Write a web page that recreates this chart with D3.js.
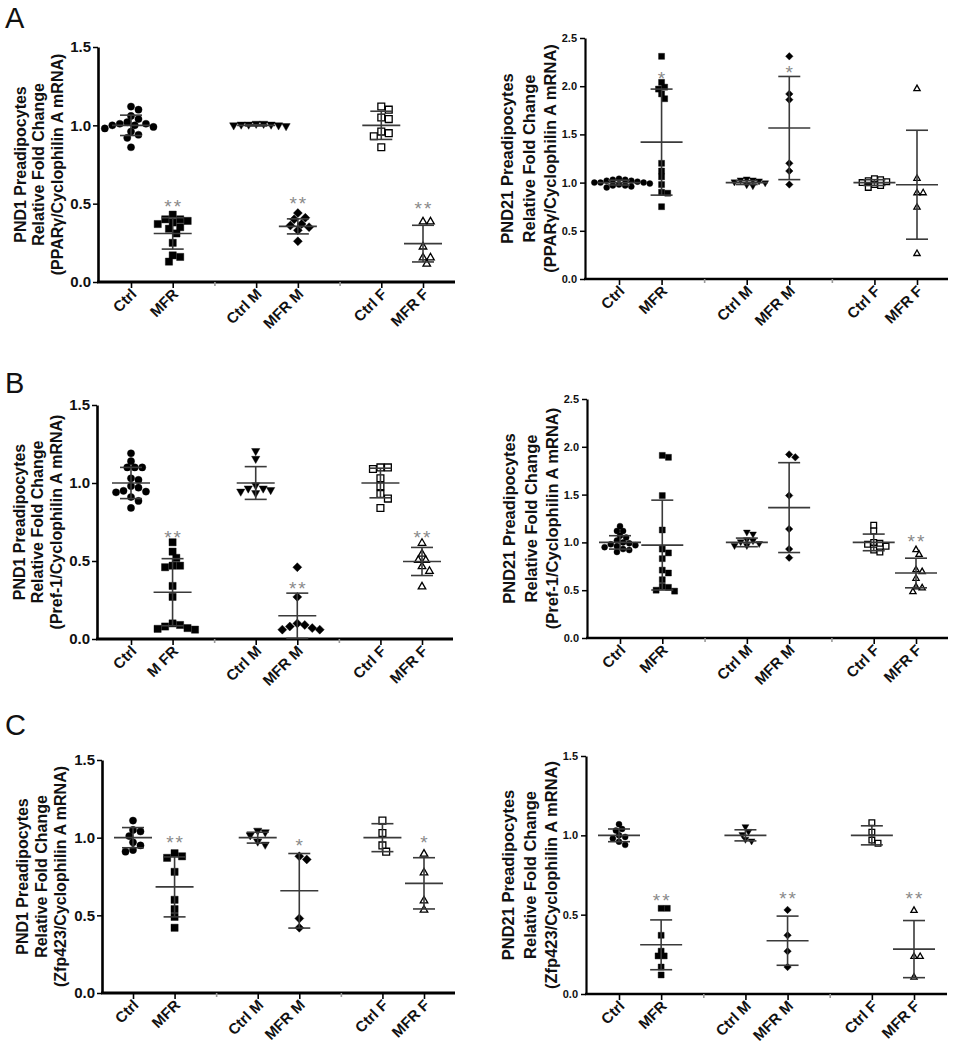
<!DOCTYPE html>
<html><head><meta charset="utf-8">
<script src="https://cdn.jsdelivr.net/npm/d3@7"></script>
<style>body{margin:0;background:#fff} svg{display:block}</style>
</head><body>
<svg id="chart" width="957" height="1050"></svg>
<script>
// ---------------- DATA ----------------
const groupLabels  = ["Ctrl","MFR","Ctrl M","MFR M","Ctrl F","MFR F"];
const groupLabelsB1 = ["Ctrl","M FR","Ctrl M","MFR M","Ctrl F","MFR F"];
const yTicksLow  = [0.0,0.5,1.0,1.5];
const yTicksHigh = [0.0,0.5,1.0,1.5,2.0,2.5];

const titleA1 = ["PND1 Preadipocytes","Relative Fold Change","(PPARγ/Cyclophilin A mRNA)"];
const titleA2 = ["PND21 Preadipocytes","Relative Fold Change","(PPARγ/Cyclophilin A mRNA)"];
const titleB1 = ["PND1 Preadipocytes","Relative Fold Change","(Pref-1/Cyclophilin A mRNA)"];
const titleB2 = ["PND21 Preadipocytes","Relative Fold Change","(Pref-1/Cyclophilin A mRNA)"];
const titleC1 = ["PND1 Preadipocytes","Relative Fold Change","(Zfp423/Cyclophilin A mRNA)"];
const titleC2 = ["PND21 Preadipocytes","Relative Fold Change","(Zfp423/Cyclophilin A mRNA)"];

// Panel A left
const aL_values = [
  [1.12,1.10,1.06,1.04,1.02,1.01,1.01,1.00,1.00,0.99,0.98,0.96,0.94,0.92,0.86],
  [0.43,0.40,0.40,0.39,0.38,0.37,0.35,0.34,0.31,0.25,0.17,0.16,0.13],
  [1.005,1.005,1.0,1.0,1.0,0.995,0.995,0.99],
  [0.44,0.41,0.40,0.37,0.36,0.35,0.33,0.26],
  [1.12,1.10,1.05,1.04,0.96,0.95,0.93,0.86],
  [0.39,0.39,0.23,0.16,0.16,0.12]
];
const aL_mean = [1.0,0.31,1.0,0.355,1.0,0.245];
const aL_sd   = [0.065,0.10,0.004,0.048,0.09,0.117];
const aL_stars = ["","**","","**","","**"];
const aL_starLevel = [0,0.51,0,0.53,0,0.50];

// Panel A right
const aR_values = [
  [1.04,1.03,1.03,1.02,1.02,1.01,1.0,1.0,1.0,0.99,0.98,0.97,0.97,0.96,0.95],
  [2.31,2.04,1.99,1.97,1.92,1.87,1.20,1.12,1.06,0.98,0.90,0.89,0.75],
  [1.03,1.02,1.02,1.01,1.0,0.99,0.97,0.96],
  [2.31,1.92,1.86,1.20,1.12,0.98],
  [1.04,1.03,1.02,1.01,1.0,0.98,0.97,0.95],
  [1.98,1.05,0.90,0.90,0.75,0.27]
];
const aR_mean = [1.0,1.42,1.0,1.566,1.0,0.978];
const aR_sd   = [0.025,0.55,0.02,0.535,0.03,0.565];
const aR_stars = ["","*","","*","",""];
const aR_starLevel = [0,2.13,0,2.19,0,0];

// Panel B left
const bL_values = [
  [1.19,1.14,1.10,1.10,1.10,1.03,1.02,0.98,0.97,0.95,0.945,0.94,0.91,0.885,0.84],
  [0.62,0.56,0.52,0.47,0.47,0.46,0.34,0.27,0.10,0.09,0.08,0.07,0.065,0.06],
  [1.20,1.15,0.98,0.96,0.96,0.95,0.94,0.93],
  [0.46,0.27,0.10,0.09,0.08,0.07,0.06,0.06],
  [1.10,1.10,1.09,1.03,0.98,0.93,0.90,0.84],
  [0.62,0.55,0.51,0.51,0.47,0.44,0.34]
];
const bL_mean = [1.0,0.30,1.0,0.149,1.0,0.497];
const bL_sd   = [0.10,0.215,0.105,0.145,0.095,0.09];
const bL_stars = ["","**","","**","","**"];
const bL_starLevel = [0,0.68,0,0.35,0,0.68];

// Panel B right
const bR_values = [
  [1.17,1.12,1.12,1.07,1.05,1.02,1.0,0.99,0.98,0.97,0.96,0.95,0.93,0.92,0.90],
  [1.91,1.89,1.49,1.13,0.93,0.89,0.83,0.71,0.68,0.61,0.54,0.53,0.50,0.49],
  [1.10,1.08,1.02,1.01,1.0,0.98,0.96,0.96],
  [1.92,1.89,1.49,1.14,0.93,0.84],
  [1.18,1.12,1.0,0.99,0.98,0.96,0.92,0.90],
  [0.93,0.88,0.72,0.70,0.63,0.54,0.53,0.49]
];
const bR_mean = [1.0,0.972,1.0,1.364,1.0,0.68];
const bR_sd   = [0.07,0.47,0.045,0.47,0.087,0.155];
const bR_stars = ["","","","","","**"];
const bR_starLevel = [0,0,0,0,0,1.06];

// Panel C left
const cL_values = [
  [1.11,1.05,1.04,1.01,0.97,0.95,0.92,0.91],
  [0.90,0.88,0.87,0.78,0.60,0.54,0.49,0.42],
  [1.04,1.03,1.01,0.97,0.95],
  [0.88,0.86,0.48,0.42],
  [1.11,1.03,0.95,0.91],
  [0.90,0.78,0.60,0.54]
];
const cL_mean = [1.0,0.683,1.0,0.658,1.0,0.706];
const cL_sd   = [0.065,0.193,0.035,0.24,0.09,0.165];
const cL_stars = ["","**","","*","","*"];
const cL_starLevel = [0,1.0,0,0.98,0,1.0];

// Panel C right
const cR_values = [
  [1.07,1.04,1.03,1.0,0.99,0.98,0.96,0.94],
  [0.54,0.54,0.37,0.27,0.24,0.24,0.17,0.12],
  [1.05,1.02,1.0,0.97,0.96],
  [0.53,0.37,0.27,0.17],
  [1.08,1.02,0.97,0.95],
  [0.53,0.24,0.24,0.11]
];
const cR_mean = [1.0,0.31,1.0,0.336,1.0,0.283];
const cR_sd   = [0.04,0.157,0.035,0.155,0.06,0.18];
const cR_stars = ["","**","","**","","**"];
const cR_starLevel = [0,0.62,0,0.63,0,0.63];

const panelLetters = ["A","B","C"];

// ---------------- DRAWING ----------------
const svg = d3.select("#chart");
const FONT = "'Liberation Sans', Arial, Helvetica, sans-serif";
const colIndex = [0,1,3,4,6,7];
const gapIndex = [2,5];
const markerKinds = ["circle","square","triDown","diamond","openSquare","openTri"];

function markerPath(kind, s) {
  const h = s/2;
  switch(kind){
    case "circle": return d3.symbol(d3.symbolCircle, Math.PI*h*h)();
    case "square": case "openSquare": return d3.symbol(d3.symbolSquare, s*s)();
    case "diamond": { const r = h*1.25; return `M0,${-r}L${r},0L0,${r}L${-r},0Z`; }
    case "triDown": { const r = h*1.15; return `M${-r},${-r*0.8}L${r},${-r*0.8}L0,${r*0.95}Z`; }
    case "openTri": { const r = h*1.1; return `M${-r},${r*0.8}L${r},${r*0.8}L0,${-r*0.95}Z`; }
  }
}

function swarm(vals, y, minD) {
  const order = vals.map((v,i)=>({v,i})).sort((a,b)=>b.v-a.v);
  const placed = [];
  const out = new Array(vals.length);
  const step = minD*0.55;
  for (const p of order) {
    const py = y(p.v);
    let chosen = 0;
    for (let n=0;n<60;n++){
      const k = Math.ceil(n/2);
      const cand = n===0 ? 0 : (n%2 ? k : -k)*step;
      const ok = placed.every(q => Math.hypot(q.x-cand, q.y-py) >= minD);
      if (ok){ chosen = cand; break; }
    }
    placed.push({x:chosen,y:py});
    out[p.i] = chosen;
  }
  return out;
}

function drawPanel(cfg) {
  const g = svg.append("g");
  const y = d3.scaleLinear().domain([0, cfg.yMax]).range([cfg.yBot, cfg.yTop]);
  const x = d3.scaleLinear().domain([0,7]).range([cfg.col0, cfg.col7]);
  const small = cfg.small;

  // y axis
  const yAxis = d3.axisLeft(y).tickValues(cfg.yTicks).tickFormat(d3.format(".1f"))
      .tickSize(5).tickSizeOuter(0).tickPadding(small?3:2);
  const ya = g.append("g").attr("transform",`translate(${cfg.axisX},0)`).call(yAxis);
  ya.select(".domain").attr("stroke","#000").attr("stroke-width", small?2.2:2.6);
  ya.selectAll(".tick line").attr("stroke","#000").attr("stroke-width",1.5);
  ya.selectAll(".tick text").attr("font-family",FONT).attr("font-weight","bold")
    .attr("font-size", small?11:15).attr("fill","#111");

  // x axis
  g.append("line").attr("x1",cfg.axisX-1).attr("x2",cfg.xEnd).attr("y1",cfg.yBot).attr("y2",cfg.yBot)
    .attr("stroke","#000").attr("stroke-width", small?2.4:2.8);
  const xAxis = d3.axisBottom(x).tickValues(colIndex).tickSize(6).tickSizeOuter(0).tickFormat((d,i)=>cfg.labels[i]);
  const xa = g.append("g").attr("transform",`translate(0,${cfg.yBot})`).call(xAxis);
  xa.select(".domain").remove();
  xa.selectAll(".tick line").attr("stroke","#000").attr("stroke-width",1.6);
  xa.selectAll(".tick text")
    .attr("font-family",FONT).attr("font-weight","bold").attr("font-size",15).attr("fill","#111")
    .attr("text-anchor","end").attr("dy",null).attr("y",null)
    .attr("transform","translate(6,13) rotate(-45)");
  const gapAxis = d3.axisBottom(x).tickValues(gapIndex).tickSize(4).tickSizeOuter(0).tickFormat("");
  const ga = g.append("g").attr("transform",`translate(0,${cfg.yBot})`).call(gapAxis);
  ga.select(".domain").remove();
  ga.selectAll(".tick line").attr("stroke","#999").attr("stroke-width",1.6);

  // points
  const minD = small ? 5.6 : 6.8;
  cfg.values.forEach((vals, gi) => {
    const cx = x(colIndex[gi]);
    const offs = swarm(vals, y, minD);
    const kind = markerKinds[gi];
    const open = kind.startsWith("open");
    const size = small ? 6 : 7.2;
    g.append("g").selectAll("path").data(vals).join("path")
      .attr("d", markerPath(kind, open? size*0.95 : size))
      .attr("transform",(d,i)=>`translate(${cx+offs[i]},${y(d)})`)
      .attr("fill", open ? "#fff" : "#000")
      .attr("stroke", "#000")
      .attr("stroke-width", open ? 1.3 : 0.4);
  });

  // mean and SD
  const halfMean = small ? 21 : 19;
  const halfCap = 11;
  const lineCol = "#3a3a3a";
  cfg.mean.forEach((m, gi) => {
    const cx = x(colIndex[gi]);
    const sd = cfg.sd[gi];
    const lg = g.append("g").attr("stroke",lineCol).attr("stroke-width",1.6);
    lg.append("line").attr("x1",cx-halfMean).attr("x2",cx+halfMean).attr("y1",y(m)).attr("y2",y(m));
    lg.append("line").attr("x1",cx).attr("x2",cx).attr("y1",y(m-sd)).attr("y2",y(m+sd));
    lg.append("line").attr("x1",cx-halfCap).attr("x2",cx+halfCap).attr("y1",y(m+sd)).attr("y2",y(m+sd));
    lg.append("line").attr("x1",cx-halfCap).attr("x2",cx+halfCap).attr("y1",y(m-sd)).attr("y2",y(m-sd));
  });

  // stars
  cfg.stars.forEach((s, gi) => {
    if (!s) return;
    const cx = x(colIndex[gi]);
    g.append("text").attr("x",cx+1).attr("y", y(cfg.starLevel[gi]) + 11)
      .attr("text-anchor","middle").attr("font-family",FONT).attr("font-size",19)
      .attr("fill","#8a8a8a").attr("letter-spacing",2).text(s);
  });

  // y title
  const tsize = small ? 16.5 : 16;
  cfg.title.forEach((t, li) => {
    const bx = cfg.axisX - cfg.titleOff[li];
    const cy = (cfg.yTop + cfg.yBot)/2;
    g.append("text").attr("transform",`translate(${bx},${cy}) rotate(-90)`)
      .attr("text-anchor","middle").attr("font-family",FONT).attr("font-weight","bold")
      .attr("font-size",tsize).attr("fill","#111").text(t);
  });
}

const leftOff = [72,54,35];
const rightOff = [72,50,29];

drawPanel({values:aL_values, mean:aL_mean, sd:aL_sd, stars:aL_stars, starLevel:aL_starLevel, title:titleA1,
  labels:groupLabels, yMax:1.5, yTicks:yTicksLow, axisX:98, yTop:47, yBot:282, xEnd:455, col0:131, col7:423, small:false, titleOff:leftOff});
drawPanel({values:aR_values, mean:aR_mean, sd:aR_sd, stars:aR_stars, starLevel:aR_starLevel, title:titleA2,
  labels:groupLabels, yMax:2.5, yTicks:yTicksHigh, axisX:585, yTop:38, yBot:279, xEnd:948, col0:619, col7:917, small:true, titleOff:rightOff});
drawPanel({values:bL_values, mean:bL_mean, sd:bL_sd, stars:bL_stars, starLevel:bL_starLevel, title:titleB1,
  labels:groupLabelsB1, yMax:1.5, yTicks:yTicksLow, axisX:97, yTop:405, yBot:639, xEnd:453, col0:131, col7:422, small:false, titleOff:leftOff});
drawPanel({values:bR_values, mean:bR_mean, sd:bR_sd, stars:bR_stars, starLevel:bR_starLevel, title:titleB2,
  labels:groupLabels, yMax:2.5, yTicks:yTicksHigh, axisX:587, yTop:399, yBot:638, xEnd:948, col0:620, col7:916, small:true, titleOff:rightOff});
drawPanel({values:cL_values, mean:cL_mean, sd:cL_sd, stars:cL_stars, starLevel:cL_starLevel, title:titleC1,
  labels:groupLabels, yMax:1.5, yTicks:yTicksLow, axisX:102, yTop:760, yBot:993, xEnd:455, col0:133, col7:424, small:false, titleOff:[74,55,36]});
drawPanel({values:cR_values, mean:cR_mean, sd:cR_sd, stars:cR_stars, starLevel:cR_starLevel, title:titleC2,
  labels:groupLabels, yMax:1.5, yTicks:yTicksLow, axisX:586, yTop:756, yBot:994, xEnd:947, col0:619, col7:914, small:true, titleOff:rightOff});

// panel letters
const letterY = [28, 393, 735];
panelLetters.forEach((L,i)=>{
  svg.append("text").attr("x",5).attr("y",letterY[i]).attr("font-family",FONT)
    .attr("font-size",29).attr("fill","#111").text(L);
});
</script>
</body></html>
